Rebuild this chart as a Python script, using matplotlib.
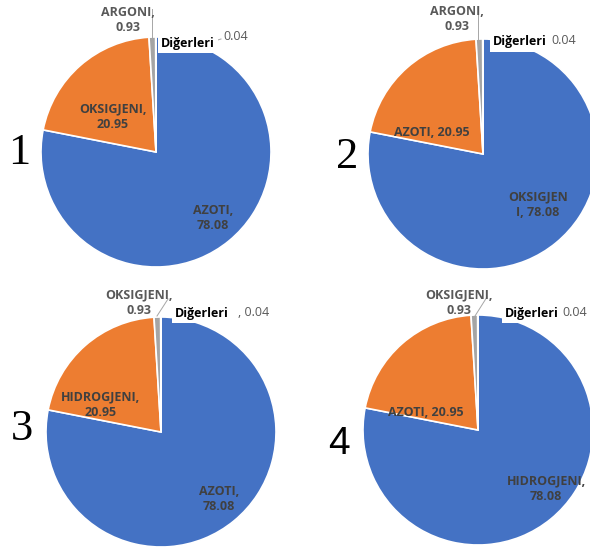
import matplotlib.pyplot as plt

# 四个饼图共用的数值（大气成分百分比）
values = [78.08, 20.95, 0.93, 0.04]
colors = ['#4472C4', '#ED7D31', '#A5A5A5', '#FFC000']

# 每个饼图的名称顺序：大扇区, 中扇区, 小扇区, 其他
names_1 = ['AZOTI', 'OKSIGJENI', 'ARGONI', 'Diğerleri']
names_2 = ['OKSIGJENI', 'AZOTI', 'ARGONI', 'Diğerleri']
names_3 = ['AZOTI', 'HIDROGJENI', 'OKSIGJENI', 'Diğerleri']
names_4 = ['HIDROGJENI', 'AZOTI', 'OKSIGJENI', 'Diğerleri']
chart_ids = ['1', '2', '3', '4']

FONT = 'Open Sans'
LBL = '#404040'

fig = plt.figure(figsize=(5.9, 5.51), dpi=100)
ax = fig.add_axes([0, 0, 1, 1])


def pie_at(cx, cy, r):
    # y轴向下，所以用 startangle=-90 + counterclock=True 得到从12点顺时针
    ax.pie(values, colors=colors, startangle=-90, counterclock=True,
           center=(cx, cy), radius=r,
           wedgeprops=dict(edgecolor='white', linewidth=1.2))


def lbl(x, y, s, color=LBL, size=9, weight='bold', box=False, ha='center'):
    kw = {}
    if box:
        kw['bbox'] = dict(facecolor='white', edgecolor='none', pad=2.5)
    ax.text(x, y, s, ha=ha, va='center', color=color, fontsize=size,
            fontweight=weight, family=FONT, linespacing=1.25, zorder=5, **kw)


def leader(xs, ys):
    ax.plot(xs, ys, color='#A6A6A6', lw=0.7, zorder=4)


def fmt(v):
    return f'{v:.2f}'


# ---- 1 ----
pie_at(156, 152, 115)
lbl(213, 218, f'{names_1[0]},\n{fmt(values[0])}')
lbl(113, 117, f'{names_1[1]},\n{fmt(values[1])}')
lbl(128, 20, f'{names_1[2]},\n{fmt(values[2])}', color='#595959')
leader([152, 152], [9, 38])
lbl(188, 43, names_1[3], color='black', box=True)
leader([208, 221], [43, 39])
lbl(236, 37, fmt(values[3]), color='#595959', weight='normal')
ax.text(19, 153, chart_ids[0], ha='center', va='center', fontsize=32,
        family='Liberation Serif', color='black')

# ---- 2 ----
pie_at(483, 154, 115)
lbl(538, 205, f'{names_2[0][:-1]}\n{names_2[0][-1]}, {fmt(values[0])}')
lbl(432, 132, f'{names_2[1]}, {fmt(values[1])}')
lbl(457, 19, f'{names_2[2]},\n{fmt(values[2])}', color='#595959')
leader([478, 478], [14, 39])
lbl(520, 42, names_2[3], color='black', box=True)
lbl(564, 40, fmt(values[3]), color='#595959', weight='normal')
ax.text(347, 157, chart_ids[1], ha='center', va='center', fontsize=32,
        family='Liberation Serif', color='black')

# ---- 3 ----
pie_at(161, 432, 115)
lbl(219, 499, f'{names_3[0]},\n{fmt(values[0])}')
lbl(101, 405, f'{names_3[1]},\n{fmt(values[1])}')
lbl(139, 303, f'{names_3[2]},\n{fmt(values[2])}', color='#595959')
leader([157, 168], [316, 299])
lbl(202, 313, names_3[3], color='black', box=True)
lbl(254, 313, ', ' + fmt(values[3]), color='#595959', weight='normal')
ax.text(22, 429, chart_ids[2], ha='center', va='center', fontsize=32,
        family='Liberation Serif', color='black')

# ---- 4 ----
pie_at(478, 430, 115)
lbl(546, 489, f'{names_4[0]},\n{fmt(values[0])}')
lbl(426, 412, f'{names_4[1]}, {fmt(values[1])}')
lbl(459, 303, f'{names_4[2]},\n{fmt(values[2])}', color='#595959')
leader([475, 487], [316, 297])
lbl(532, 313, names_4[3], color='black', box=True)
lbl(575, 313, fmt(values[3]), color='#595959', weight='normal')
ax.text(339, 444, chart_ids[3], ha='center', va='center', fontsize=28,
        family='Liberation Sans', color='black')

ax.set_xlim(0, 590)
ax.set_ylim(551, 0)
ax.set_aspect('equal')
ax.axis('off')

fig.savefig('out.png', dpi=100, facecolor='white')
